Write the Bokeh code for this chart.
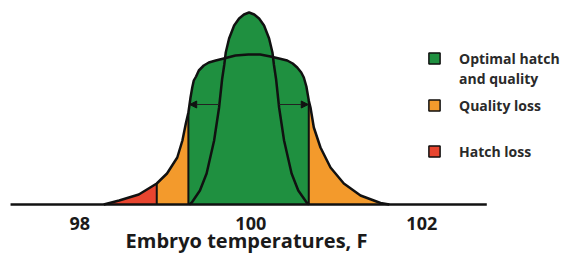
import numpy as np
from bokeh.plotting import figure
from bokeh.models import Legend, LegendItem, Arrow, NormalHead, FixedTicker, Label
from bokeh.embed import file_html
from bokeh.resources import INLINE

# ---------------- data ----------------
temp_ticks = [98, 100, 102]
axis_title = "Embryo temperatures, F"
axis_title_x = 99.95  # the title is centred under the curves, not under the figure

# broad (population) temperature curve, relative height
wide_x = [98.28, 98.46, 98.69, 98.90, 99.02, 99.14, 99.20, 99.24, 99.27, 99.295,
          99.315, 99.333, 99.36, 99.392, 99.45, 99.509, 99.59, 99.684, 99.82, 99.97,
          100.11, 100.23, 100.33, 100.426, 100.49, 100.543, 100.59, 100.62, 100.65,
          100.678, 100.698, 100.737, 100.815, 100.932, 101.088, 101.283, 101.517, 101.62]
wide_h = [0, 4, 10, 21, 31, 47, 64, 81, 92, 107,
          117, 124, 128, 134, 139, 142, 144, 146, 149, 150,
          150, 148, 146, 144, 141, 137, 132, 127, 118,
          104, 97, 77, 57, 37, 21, 9, 1.5, 0]

# narrow (optimal) curve
narrow_x = [99.28, 99.31, 99.405, 99.483, 99.571, 99.629, 99.664, 99.69, 99.707, 99.746,
            99.805, 99.863, 99.92, 99.98, 100.04, 100.097, 100.155, 100.214, 100.253,
            100.27, 100.296, 100.331, 100.389, 100.477, 100.555, 100.653, 100.68]
narrow_h = [0, 2, 14, 31, 64, 97, 125, 140, 152, 166,
            179, 186, 190, 192, 190, 186, 179, 166, 152,
            140, 125, 97, 64, 31, 14, 2, 0]

# zone boundaries
hatch_loss_edge = 98.90
optimal_lo = 99.27
optimal_hi = 100.678

# arrows between the curves
arrow_y = 100
arrow_left = [99.63, 99.285]
arrow_right = [100.33, 100.672]

baseline_x = [97.19, 102.76]

legend_top = ["Optimal hatch", "and quality"]
legend_bottom = ["Quality loss", "Hatch loss"]

GREEN = "#1f9040"
ORANGE = "#f39a2c"
RED = "#e8452f"
INK = "#111111"
FONT = "Open Sans"

# ---------------- figure ----------------
p = figure(width=570, height=255, x_range=(97.0725, 103.739), y_range=(-51, 204),
           output_backend="svg", toolbar_location=None, y_axis_location=None,
           min_border_left=0, min_border_right=0, min_border_top=0, min_border_bottom=0)
p.outline_line_color = None
p.grid.visible = False
p.background_fill_color = "white"
p.border_fill_color = "white"

wx = np.array(wide_x)
wh = np.array(wide_h)


def part(lo, hi):
    m = (wx >= lo - 1e-9) & (wx <= hi + 1e-9)
    return wx[m], wh[m]


rx, rh = part(wx.min(), hatch_loss_edge)
p.varea(x=rx, y1=0, y2=rh, fill_color=RED)
ox, oh = part(hatch_loss_edge, optimal_lo)
p.varea(x=ox, y1=0, y2=oh, fill_color=ORANGE)
gx, gh = part(optimal_lo, optimal_hi)
p.varea(x=gx, y1=0, y2=gh, fill_color=GREEN)
o2x, o2h = part(optimal_hi, wx.max())
p.varea(x=o2x, y1=0, y2=o2h, fill_color=ORANGE)
p.varea(x=narrow_x, y1=0, y2=narrow_h, fill_color=GREEN)

# outlines
p.line(narrow_x, narrow_h, line_color=INK, line_width=2.5, line_join="round")
p.line(wide_x, wide_h, line_color=INK, line_width=2.5, line_join="round")
edges = [hatch_loss_edge, optimal_lo, optimal_hi]
edge_h = [float(np.interp(e, wx, wh)) for e in edges]
p.segment(x0=edges, y0=[0] * 3, x1=edges, y1=edge_h, line_color=INK, line_width=2)
p.line(baseline_x, [0, 0], line_color=INK, line_width=2.5)

for xs in (arrow_left, arrow_right):
    p.add_layout(Arrow(x_start=xs[0], y_start=arrow_y, x_end=xs[1], y_end=arrow_y,
                       line_color="#222222", line_width=1.2,
                       end=NormalHead(size=7, fill_color=INK, line_color=INK, line_width=1)))

# axis drawn at the baseline, taking no layout space
ax = p.xaxis[0]
ax.fixed_location = 0
ax.ticker = FixedTicker(ticks=temp_ticks)
ax.axis_line_color = None
ax.major_tick_line_color = None
ax.minor_tick_line_color = None
ax.major_tick_out = 0
ax.major_tick_in = 0
ax.major_label_standoff = 12
ax.major_label_text_font = FONT
ax.major_label_text_font_size = "18px"
ax.major_label_text_font_style = "bold"
ax.major_label_text_color = "#1a1a1a"

# axis title, centred under the distribution
p.add_layout(Label(x=axis_title_x, y=-36, text=axis_title, text_align="center",
                   text_baseline="alphabetic", text_font=FONT, text_font_size="20px",
                   text_font_style="bold", text_color="#1a1a1a"))

# legend proxies (single NaN row: not visible in the plot)
nan = [np.nan]
g_proxy = p.quad(left=nan, right=nan, top=nan, bottom=nan, fill_color=GREEN, line_color=INK, line_width=1.5)
blank = p.quad(left=nan, right=nan, top=nan, bottom=nan, fill_alpha=0, line_alpha=0)
o_proxy = p.quad(left=nan, right=nan, top=nan, bottom=nan, fill_color=ORANGE, line_color=INK, line_width=1.5)
r_proxy = p.quad(left=nan, right=nan, top=nan, bottom=nan, fill_color=RED, line_color=INK, line_width=1.5)


def make_legend(items, loc, spacing):
    return Legend(items=items, location=loc, spacing=spacing, glyph_width=14, glyph_height=14,
                  label_height=20, label_standoff=18, padding=0, margin=0,
                  border_line_color=None, background_fill_alpha=0,
                  label_text_font=FONT, label_text_font_size="14px",
                  label_text_font_style="bold", label_text_color="#2a2a2a")


leg_a = make_legend([LegendItem(label=legend_top[0], renderers=[g_proxy]),
                     LegendItem(label=legend_top[1], renderers=[blank])], (427, 167), 0)
leg_b = make_legend([LegendItem(label=legend_bottom[0], renderers=[o_proxy]),
                     LegendItem(label=legend_bottom[1], renderers=[r_proxy])], (427, 94), 26)
p.add_layout(leg_a)
p.add_layout(leg_b)

open("out.html", "w").write(file_html(p, INLINE))
